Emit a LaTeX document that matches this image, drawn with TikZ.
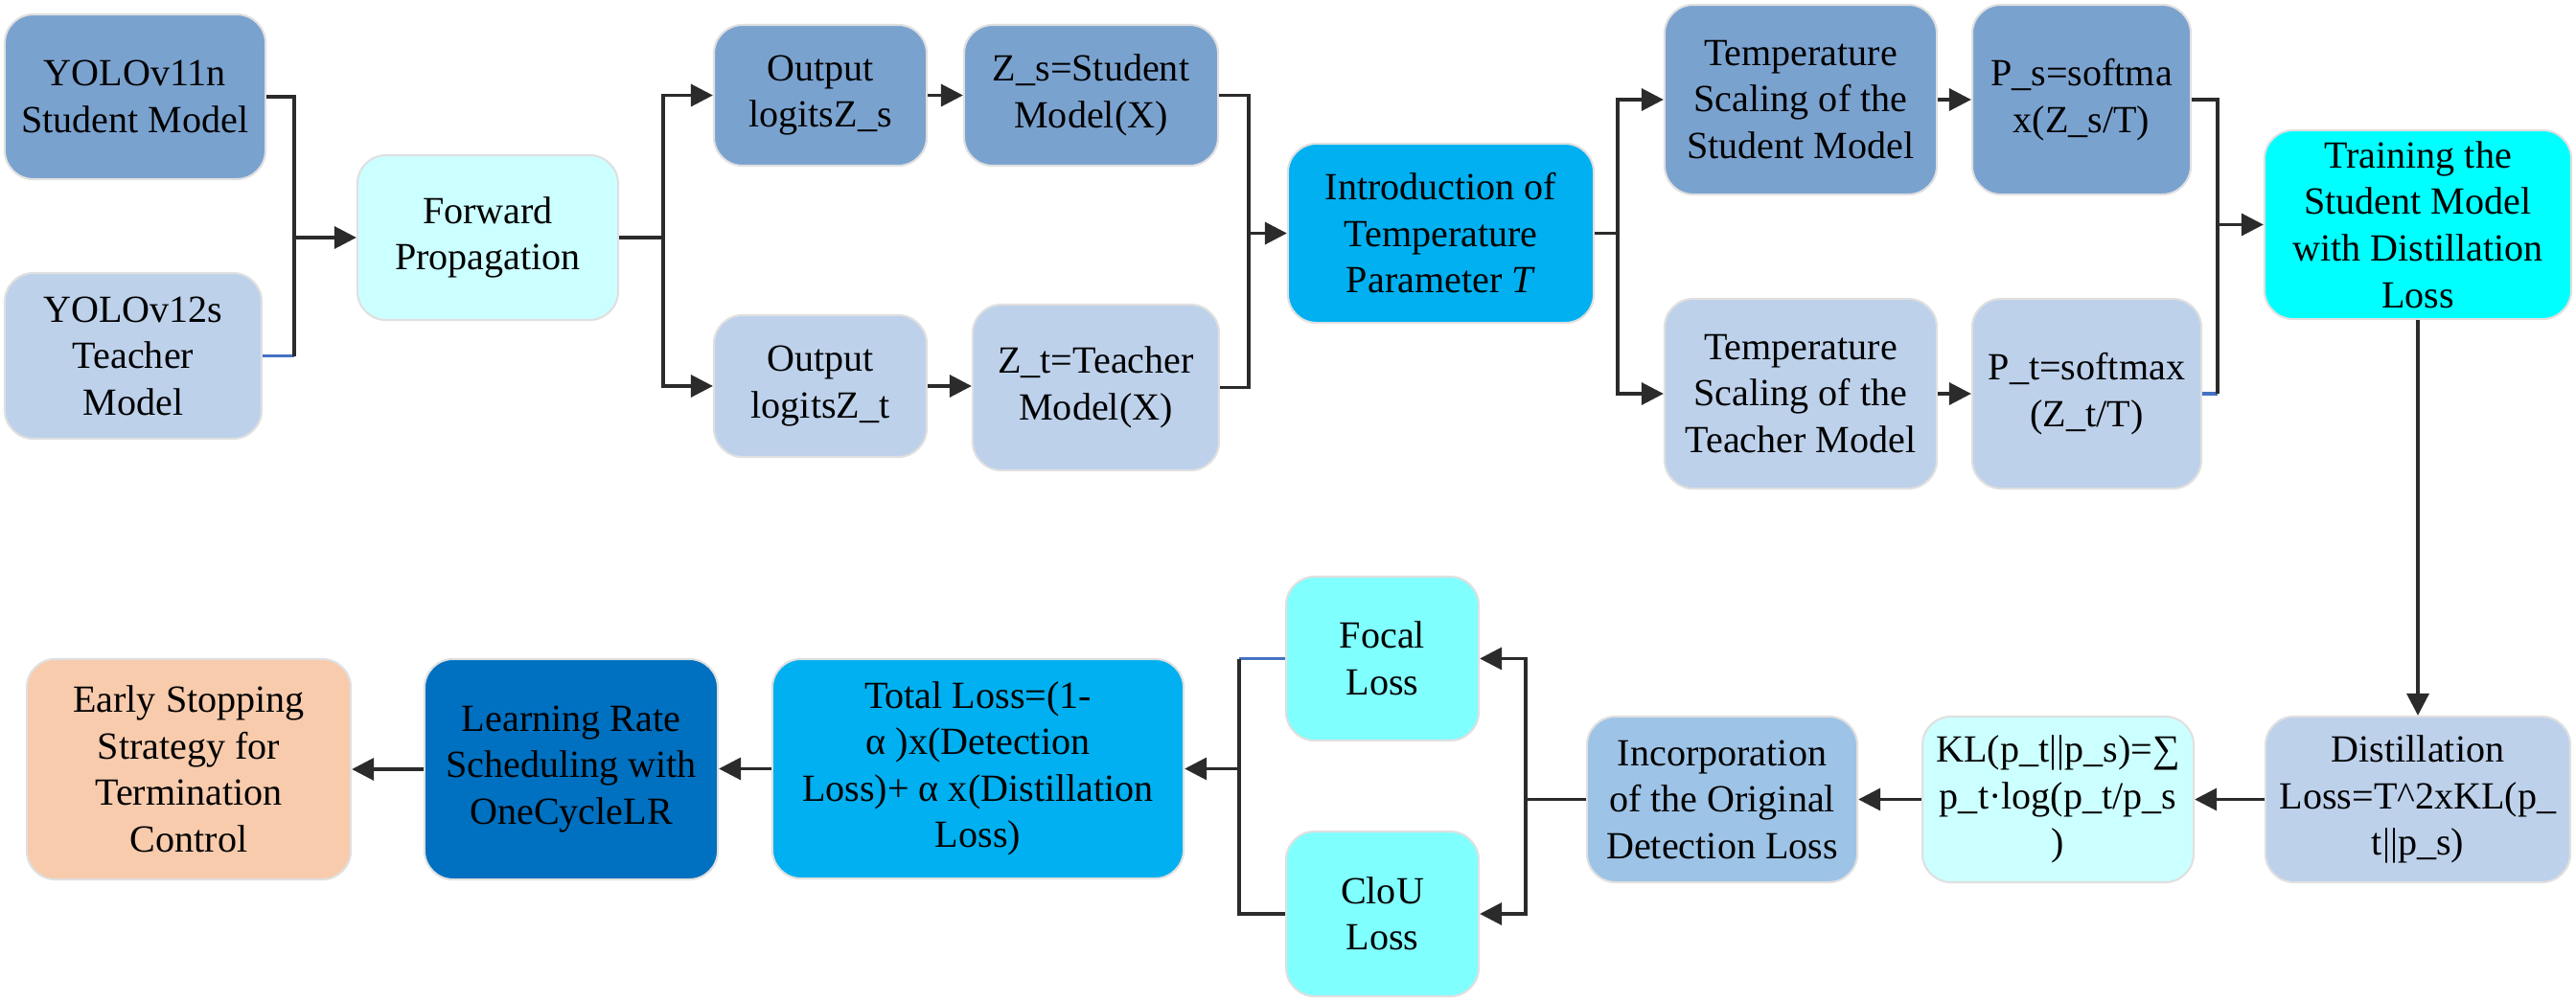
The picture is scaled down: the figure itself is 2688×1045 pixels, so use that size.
\documentclass[tikz,border=0pt]{standalone}
\usepackage{fontspec}
\setmainfont{Liberation Serif}
\newfontfamily\boxfont{Liberation Serif}
\usetikzlibrary{arrows.meta}
\definecolor{cStu}{HTML}{7AA2CF}
\definecolor{cTea}{HTML}{BDD1EB}
\definecolor{cPale}{HTML}{CCFFFF}
\definecolor{cSky}{HTML}{00B0F0}
\definecolor{cCyan}{HTML}{00FFFF}
\definecolor{cAqua}{HTML}{80FFFF}
\definecolor{cInc}{HTML}{9DC3E6}
\definecolor{cLR}{HTML}{0070C0}
\definecolor{cEarly}{HTML}{F8CBAD}
\definecolor{cLine}{HTML}{2B2B2B}
\definecolor{cBlueLn}{HTML}{4472C4}
\tikzset{
  box/.style={rounded corners=0.3cm, draw=black!12, line width=0.6pt, align=center, inner sep=0pt,
    font=\boxfont\fontsize{11.4}{13.8}\selectfont, text=black},
  ln/.style={draw=cLine, line width=1pt},
  lnb/.style={draw=cBlueLn, line width=1pt},
  arr/.style={draw=cLine, line width=1pt, -{Triangle[length=0.23cm,width=0.23cm]}}
}
\newcommand\bx[7]{%
  \pgfmathsetmacro\bxw{(#4-#2)/100}%
  \pgfmathsetmacro\bxh{(#5-#3)/100}%
  \node[box, fill=#6, minimum width=\bxw cm, minimum height=\bxh cm] (#1) at ({(#2+#4)/2},{(#3+#5)/2}) {#7};}
\begin{document}
\begin{tikzpicture}[x=0.01cm,y=-0.01cm]
\useasboundingbox (0,0) rectangle (2688,1045);
% row 1
\bx{stu}{5}{15}{277}{187}{cStu}{YOLOv11n\\Student Model}
\bx{tea}{5}{285}{273}{458}{cTea}{YOLOv12s\\Teacher\\Model}
\bx{fwd}{373}{162}{645}{334}{cPale}{Forward\\Propagation}
\bx{outs}{745}{26}{967}{173}{cStu}{Output\\logitsZ\_s}
\bx{zs}{1006}{26}{1271}{173}{cStu}{Z\_s=Student\\Model(X)}
\bx{outt}{745}{329}{967}{477}{cTea}{Output\\logitsZ\_t}
\bx{zt}{1015}{318}{1272}{491}{cTea}{Z\_t=Teacher\\Model(X)}
\bx{intro}{1344}{150}{1663}{337}{cSky}{Introduction of\\Temperature\\Parameter \textit{T}}
\bx{tss}{1737}{5}{2021}{203}{cStu}{Temperature\\Scaling of the\\Student Model}
\bx{ps}{2058}{5}{2286}{203}{cStu}{P\_s=softma\\x(Z\_s/T)}
\bx{tst}{1737}{312}{2021}{510}{cTea}{Temperature\\Scaling of the\\Teacher Model}
\bx{pt}{2058}{312}{2297}{510}{cTea}{P\_t=softmax\\(Z\_t/T)}
\bx{train}{2363}{136}{2683}{333}{cCyan}{Training the\\Student Model\\with Distillation\\Loss}
% row 2
\bx{dist}{2364}{748}{2682}{921}{cTea}{Distillation\\Loss=T\textasciicircum 2xKL(p\_\\t||p\_s)}
\bx{kl}{2006}{748}{2289}{921}{cPale}{KL(p\_t||p\_s)=∑\\p\_t·log(p\_t/p\_s\\)}
\bx{inc}{1656}{748}{1938}{921}{cInc}{Incorporation\\of the Original\\Detection Loss}
\bx{focal}{1342}{602}{1543}{773}{cAqua}{Focal\\Loss}
\bx{ciou}{1342}{868}{1543}{1040}{cAqua}{CloU\\Loss}
\bx{total}{806}{688}{1235}{917}{cSky}{Total Loss=(1-\\α )x(Detection\\Loss)+ α x(Distillation\\Loss)}
\bx{lr}{443}{688}{749}{918}{cLR}{Learning Rate\\Scheduling with\\OneCycleLR}
\bx{early}{28}{688}{366}{918}{cEarly}{Early Stopping\\Strategy for\\Termination\\Control}
% junction points
\coordinate (b1) at (307,248);
\coordinate (b2) at (692,248);
\coordinate (b3) at (1303,243.5);
\coordinate (b4) at (1688,243.5);
\coordinate (b5) at (2314,234.5);
\coordinate (b6) at (1592,834.5);
\coordinate (b7) at (1293,802.5);
% connectors row 1
\draw[ln] (stu.east) -| (b1);
\draw[lnb] (tea.east) -- (tea.east -| b1);
\draw[ln] (tea.east -| b1) -- (b1);
\draw[arr] (b1) -- (fwd.west);
\draw[ln] (fwd.east) -- (b2);
\draw[arr] (b2) |- (outs.west);
\draw[arr] (b2) |- (outt.west);
\draw[arr] (outs.east) -- (outs.east -| zs.west);
\draw[arr] (outt.east) -- (outt.east -| zt.west);
\draw[ln] (zs.east) -| (b3);
\draw[ln] (zt.east) -| (b3);
\draw[arr] (b3) -- (intro.west);
\draw[ln] (intro.east) -- (b4);
\draw[arr] (b4) |- (tss.west);
\draw[arr] (b4) |- (tst.west);
\draw[arr] (tss.east) -- (tss.east -| ps.west);
\draw[arr] (tst.east) -- (tst.east -| pt.west);
\draw[ln] (ps.east) -| (b5);
\draw[lnb] (pt.east) -- (pt.east -| b5);
\draw[ln] (pt.east -| b5) -- (b5);
\draw[arr] (b5) -- (train.west);
\draw[arr] (train.south) -- (train.south |- dist.north);
% connectors row 2
\draw[arr] (dist.west) -- (dist.west -| kl.east);
\draw[arr] (kl.west) -- (kl.west -| inc.east);
\draw[ln] (inc.west) -- (b6);
\draw[arr] (b6) |- (focal.east);
\draw[arr] (b6) |- (ciou.east);
\draw[lnb] (focal.west) -- (focal.west -| b7);
\draw[ln] (focal.west -| b7) |- (ciou.west);
\draw[arr] (b7) -- (total.east);
\draw[arr] (total.west) -- (total.west -| lr.east);
\draw[arr] (lr.west) -- (lr.west -| early.east);
\end{tikzpicture}
\end{document}
